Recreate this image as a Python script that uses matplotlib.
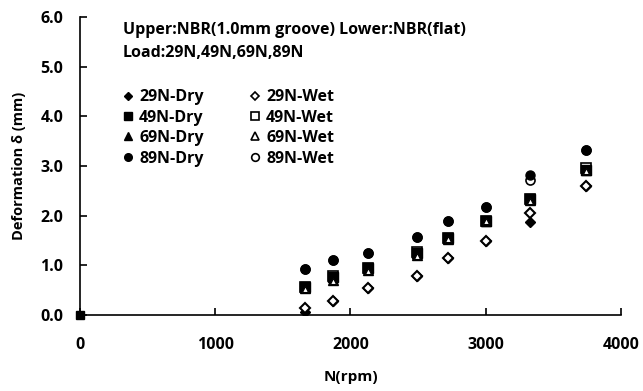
import numpy as np
import matplotlib.pyplot as plt
from matplotlib.lines import Line2D

plt.rcParams['font.family'] = ['Open Sans', 'DejaVu Sans']

rpm = [1660, 1870, 2130, 2490, 2720, 3000, 3330, 3740]

dry_29 = [0.06, 0.28, 0.55, 0.79, 1.14, 1.48, 1.88, 2.59]
dry_49 = [0.57, 0.76, 0.94, 1.24, 1.56, 1.90, 2.33, 2.91]
dry_69 = [0.55, 0.70, 0.91, 1.21, 1.54, 1.90, 2.32, 2.91]
dry_89 = [0.92, 1.11, 1.24, 1.58, 1.90, 2.18, 2.82, 3.33]

wet_29 = [0.14, 0.28, 0.55, 0.79, 1.14, 1.48, 2.06, 2.59]
wet_49 = [0.57, 0.78, 0.94, 1.26, 1.56, 1.90, 2.33, 2.96]
wet_69 = [0.53, 0.68, 0.89, 1.19, 1.53, 1.90, 2.30, 2.90]
wet_89 = [0.92, 1.11, 1.24, 1.58, 1.90, 2.18, 2.72, 3.33]

fig = plt.figure(figsize=(6.43, 3.91), dpi=100)
ax = fig.add_axes([0.1244, 0.1944, 0.8414, 0.762])

ms = 6.5
# wet series hidden under the filled markers
ax.plot(rpm, wet_49, 's', mfc='white', mec='black', mew=1.2, ms=ms, zorder=2)
ax.plot(rpm, wet_89, 'o', mfc='white', mec='black', mew=1.2, ms=ms, zorder=2)
# dry series
ax.plot(rpm, dry_29, 'D', color='black', ms=5.5, zorder=3)
ax.plot(rpm, dry_49, 's', color='black', ms=ms, zorder=3)
ax.plot(rpm, dry_69, '^', color='black', ms=ms, zorder=3)
ax.plot(rpm, dry_89, 'o', color='black', ms=ms, zorder=3)
# wet series on top
ax.plot(rpm, wet_29, 'D', mfc='white', mec='black', mew=1.5, ms=5.5, zorder=4)
ax.plot(rpm, wet_69, '^', mfc='white', mec='black', mew=0.8, ms=4, zorder=4)

# point at origin
ax.plot([0], [0], 's', color='black', ms=6, clip_on=False, zorder=5)

ax.set_xlim(0, 4000)
ax.set_ylim(0, 6.0)
ax.set_xticks([0, 1000, 2000, 3000, 4000])
ax.set_yticks(np.arange(0, 6.01, 1.0))
ax.set_yticklabels(['%.1f' % v for v in np.arange(0, 6.01, 1.0)])
ax.spines['top'].set_visible(False)
ax.spines['right'].set_visible(False)
ax.spines['left'].set_linewidth(1.2)
ax.spines['bottom'].set_linewidth(1.2)
ax.tick_params(direction='in', length=5, width=1.2, labelsize=11.5)
ax.tick_params(axis='y', pad=12)
ax.tick_params(axis='x', pad=16)
for lab in ax.get_xticklabels() + ax.get_yticklabels():
    lab.set_fontweight('bold')

ax.set_xlabel('N(rpm)', fontsize=11, fontweight='bold', labelpad=12)
ax.set_ylabel('Deformation δ (mm)', fontsize=10.5, fontweight='bold', labelpad=10)

ax.text(0.0795, 0.955, 'Upper:NBR(1.0mm groove) Lower:NBR(flat)', transform=ax.transAxes,
        fontsize=11.5, fontweight='bold', va='center')
ax.text(0.0795, 0.878, 'Load:29N,49N,69N,89N', transform=ax.transAxes,
        fontsize=11.5, fontweight='bold', va='center')

handles = [
    Line2D([], [], ls='none', marker='D', color='black', ms=4.5),
    Line2D([], [], ls='none', marker='s', color='black', ms=5.5),
    Line2D([], [], ls='none', marker='^', color='black', ms=5.5),
    Line2D([], [], ls='none', marker='o', color='black', ms=5.5),
    Line2D([], [], ls='none', marker='D', mfc='white', mec='black', mew=1.2, ms=4.5),
    Line2D([], [], ls='none', marker='s', mfc='white', mec='black', mew=1.2, ms=5.5),
    Line2D([], [], ls='none', marker='^', mfc='white', mec='black', mew=1.2, ms=5.5),
    Line2D([], [], ls='none', marker='o', mfc='white', mec='black', mew=1.2, ms=5.5),
]
labels = ['29N-Dry', '49N-Dry', '69N-Dry', '89N-Dry',
          '29N-Wet', '49N-Wet', '69N-Wet', '89N-Wet']
leg = ax.legend(handles, labels, ncol=2, frameon=False, loc='upper left',
                bbox_to_anchor=(0.065, 0.785), handlelength=0.6, handletextpad=0.4,
                columnspacing=2.9, labelspacing=0.28, borderpad=0,
                prop={'size': 11.5, 'weight': 'bold'})

fig.savefig('out.png', dpi=100)
